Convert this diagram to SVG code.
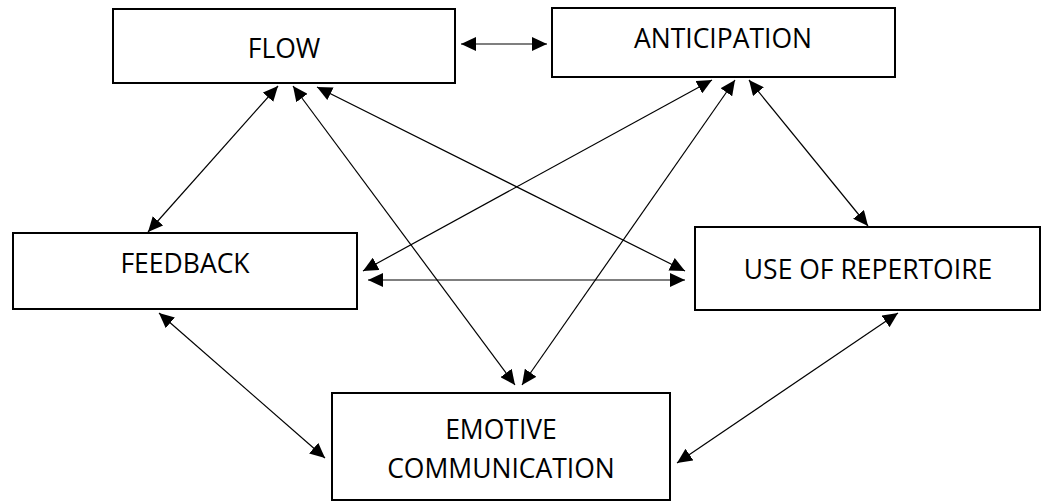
<svg xmlns="http://www.w3.org/2000/svg" width="1042" height="502" viewBox="0 0 1042 502">
  <defs>
    <marker id="head" markerUnits="userSpaceOnUse" markerWidth="16" markerHeight="14" refX="15" refY="7" orient="auto-start-reverse">
      <path d="M0,0 L15,7 L0,14 z" fill="#000"/>
    </marker>
    <style>
      .box { fill: #fff; stroke: #000; stroke-width: 2; }
      .label { font-family: "Open Sans", "Noto Sans", "Liberation Sans", sans-serif; font-size: 26.5px; fill: #000; text-anchor: middle; }
      .link { stroke: #000; stroke-width: 1.2; fill: none; marker-start: url(#head); marker-end: url(#head); }
    </style>
  </defs>
  <rect width="1042" height="502" fill="#fff"/>

  <g id="connectors">
    <line class="link" x1="461" y1="44" x2="547" y2="44"/>
    <line class="link" x1="278" y1="86" x2="148" y2="232"/>
    <line class="link" x1="293" y1="86" x2="515" y2="385"/>
    <line class="link" x1="317" y1="87" x2="685" y2="271"/>
    <line class="link" x1="712" y1="80" x2="363" y2="271"/>
    <line class="link" x1="735" y1="80" x2="522" y2="385"/>
    <line class="link" x1="749" y1="80" x2="868" y2="226"/>
    <line class="link" x1="368" y1="280" x2="685" y2="280"/>
    <line class="link" x1="159" y1="313" x2="325" y2="458"/>
    <line class="link" x1="898" y1="313" x2="677" y2="463"/>
  </g>

  <g id="flow">
    <rect class="box" x="113" y="9" width="342" height="74"/>
    <text class="label" x="284" y="58">FLOW</text>
  </g>

  <g id="anticipation">
    <rect class="box" x="552" y="8" width="343" height="69"/>
    <text class="label" x="723" y="48">ANTICIPATION</text>
  </g>

  <g id="feedback">
    <rect class="box" x="13" y="233" width="344" height="76"/>
    <text class="label" x="185" y="273">FEEDBACK</text>
  </g>

  <g id="use-of-repertoire">
    <rect class="box" x="695" y="227" width="345" height="83"/>
    <text class="label" x="868" y="279">USE OF REPERTOIRE</text>
  </g>

  <g id="emotive-communication">
    <rect class="box" x="332" y="393" width="338" height="107"/>
    <text class="label" x="501" y="439">EMOTIVE</text>
    <text class="label" x="501" y="478">COMMUNICATION</text>
  </g>
</svg>
